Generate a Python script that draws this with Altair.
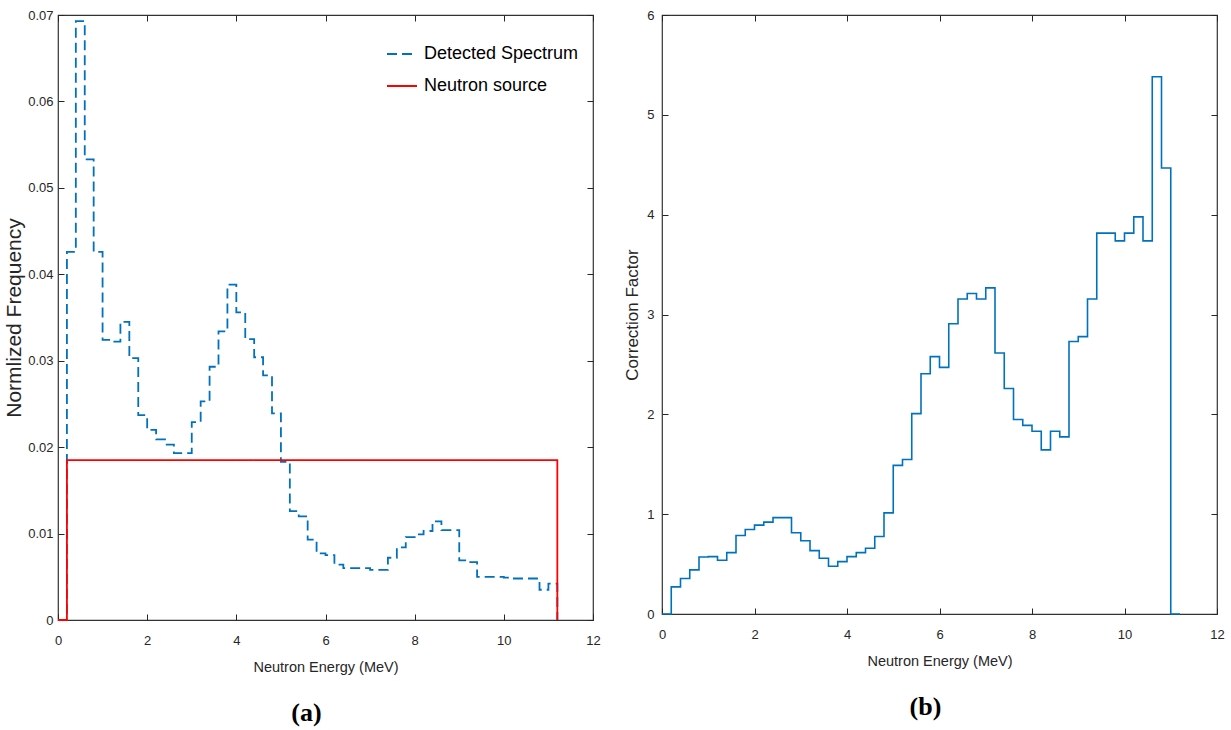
import altair as alt
import pandas as pd

# ---------------- data ----------------
energy_edges = [0.0, 0.2, 0.4, 0.6, 0.8, 1.0, 1.2, 1.4, 1.6, 1.8,
                2.0, 2.2, 2.4, 2.6, 2.8, 3.0, 3.2, 3.4, 3.6, 3.8,
                4.0, 4.2, 4.4, 4.6, 4.8, 5.0, 5.2, 5.4, 5.6, 5.8,
                6.0, 6.2, 6.4, 6.6, 6.8, 7.0, 7.2, 7.4, 7.6, 7.8,
                8.0, 8.2, 8.4, 8.6, 8.8, 9.0, 9.2, 9.4, 9.6, 9.8,
                10.0, 10.2, 10.4, 10.6, 10.8, 11.0, 11.2]

# value of each bin starting at the edge above (last entry closes the step)
detected_spectrum = [0.0, 0.0426, 0.0693, 0.0533, 0.0426, 0.0324, 0.0322, 0.0345, 0.0303, 0.0237,
                     0.0220, 0.0209, 0.0203, 0.0193, 0.0193, 0.0229, 0.0253, 0.0293, 0.0334, 0.0388,
                     0.0356, 0.0325, 0.0304, 0.0283, 0.0239, 0.0183, 0.0126, 0.0120, 0.0093, 0.0077,
                     0.0075, 0.0064, 0.0060, 0.0060, 0.0060, 0.0058, 0.0058, 0.0072, 0.0084, 0.0096,
                     0.0099, 0.0103, 0.0114, 0.0104, 0.0104, 0.0069, 0.0067, 0.0050, 0.0050, 0.0050,
                     0.0049, 0.0048, 0.0048, 0.0048, 0.0035, 0.0042, 0.0]

source_energy = [0.0, 0.2, 11.2]
source_level = [0.0, 0.0185, 0.0]

correction_factor = [0.0, 0.272, 0.355, 0.442, 0.571, 0.575, 0.538, 0.615, 0.787, 0.847,
                     0.890, 0.920, 0.965, 0.965, 0.814, 0.734, 0.635, 0.558, 0.478, 0.525,
                     0.575, 0.615, 0.658, 0.777, 1.013, 1.489, 1.548, 2.007, 2.407, 2.578,
                     2.470, 2.907, 3.156, 3.211, 3.156, 3.267, 2.615, 2.259, 1.948, 1.889,
                     1.830, 1.644, 1.830, 1.774, 2.730, 2.778, 3.156, 3.815, 3.815, 3.737,
                     3.815, 3.978, 3.737, 5.381, 4.467, 0.0, 0.0]

series_names = ["Detected Spectrum", "Neutron source"]
series_colors = ["#0072BD", "#FF0000"]
x_ticks = [0, 2, 4, 6, 8, 10, 12]
ya_ticks = [0, 0.01, 0.02, 0.03, 0.04, 0.05, 0.06, 0.07]
yb_ticks = [0, 1, 2, 3, 4, 5, 6]

rows = []
for e, v in zip(energy_edges, detected_spectrum):
    rows.append({"E": e, "v": v, "series": series_names[0]})
for e, v in zip(source_energy, source_level):
    rows.append({"E": e, "v": v, "series": series_names[1]})
df_a = pd.DataFrame(rows)
df_b = pd.DataFrame({"E": energy_edges, "v": correction_factor})

SANS = "Liberation Sans, Arial, Helvetica, sans-serif"
AX = "#262626"

def axis_common(**kw):
    base = dict(grid=False, domain=False, tickColor=AX, tickWidth=1, tickSize=6,
                offset=-6, labelColor=AX, labelFont=SANS, labelFontSize=13,
                labelFlush=False, titleColor=AX, titleFont=SANS, titleFontWeight="normal")
    base.update(kw)
    return alt.Axis(**base)

xs = alt.Scale(domain=[0, 12], nice=False, zero=False)
ysa = alt.Scale(domain=[0, 0.07], nice=False)
ysb = alt.Scale(domain=[0, 6], nice=False)

bottom_x = axis_common(orient="bottom", values=x_ticks, title="Neutron Energy (MeV)",
                       labelPadding=14, titleFontSize=14.5, titlePadding=13)
top_x = axis_common(orient="top", values=x_ticks, title=None, labels=False)

# ---------------- panel (a) ----------------
left_ya = axis_common(orient="left", values=ya_ticks, title="Normlized Frequency",
                      labelExpr="datum.value == 0 ? '0' : format(datum.value, '.2f')",
                      labelPadding=5, titleFontSize=21, titlePadding=3)
right_ya = axis_common(orient="right", values=ya_ticks, title=None, labels=False)

lines_a = alt.Chart(df_a).mark_line(interpolate="step-after", strokeWidth=1.8).encode(
    x=alt.X("E:Q", scale=xs, axis=bottom_x),
    y=alt.Y("v:Q", scale=ysa, axis=left_ya),
    color=alt.Color("series:N", scale=alt.Scale(domain=series_names, range=series_colors),
                    legend=alt.Legend(title=None)),
    strokeDash=alt.StrokeDash("series:N",
                              scale=alt.Scale(domain=series_names, range=[[10, 5], [1, 0]]),
                              legend=alt.Legend(title=None)),
)
mirror_a = alt.Chart(df_a).mark_line(strokeOpacity=0).encode(
    x=alt.X("E:Q", scale=xs, axis=top_x),
    y=alt.Y("v:Q", scale=ysa, axis=right_ya),
)
panel_a = alt.layer(lines_a, mirror_a).resolve_axis(x="independent", y="independent").properties(
    width=535, height=605,
    title=alt.TitleParams("(a)", orient="bottom", anchor="middle", font="Liberation Serif",
                          fontSize=26, fontWeight="bold", color="black", offset=26, dx=-19),
)

# ---------------- panel (b) ----------------
left_yb = axis_common(orient="left", values=yb_ticks, title="Correction Factor",
                      labelPadding=8, titleFontSize=17, titlePadding=5)
right_yb = axis_common(orient="right", values=yb_ticks, title=None, labels=False)

line_b = alt.Chart(df_b).mark_line(interpolate="step-after", strokeWidth=1.6, color="#0072BD").encode(
    x=alt.X("E:Q", scale=xs, axis=bottom_x),
    y=alt.Y("v:Q", scale=ysb, axis=left_yb),
)
mirror_b = alt.Chart(df_b).mark_line(strokeOpacity=0).encode(
    x=alt.X("E:Q", scale=xs, axis=top_x),
    y=alt.Y("v:Q", scale=ysb, axis=right_yb),
)
panel_b = alt.layer(line_b, mirror_b).resolve_axis(x="independent", y="independent").properties(
    width=555, height=599,
    title=alt.TitleParams("(b)", orient="bottom", anchor="middle", font="Liberation Serif",
                          fontSize=26, fontWeight="bold", color="black", offset=26, dx=-14),
)

chart = alt.hconcat(panel_a, panel_b, spacing=22).configure(
    padding={"left": 3, "top": 8, "right": 5, "bottom": 0},
    background="white",
).configure_view(stroke="#333333", strokeWidth=1.2).configure_legend(
    orient="none", legendX=328, legendY=23, padding=0, symbolType="stroke",
    symbolSize=900, symbolStrokeWidth=2, labelFont=SANS, labelFontSize=18,
    labelColor="black", labelOffset=6, rowPadding=7, labelLimit=300,
)

chart.save("out.html", embed_options={"renderer": "svg", "actions": False})
